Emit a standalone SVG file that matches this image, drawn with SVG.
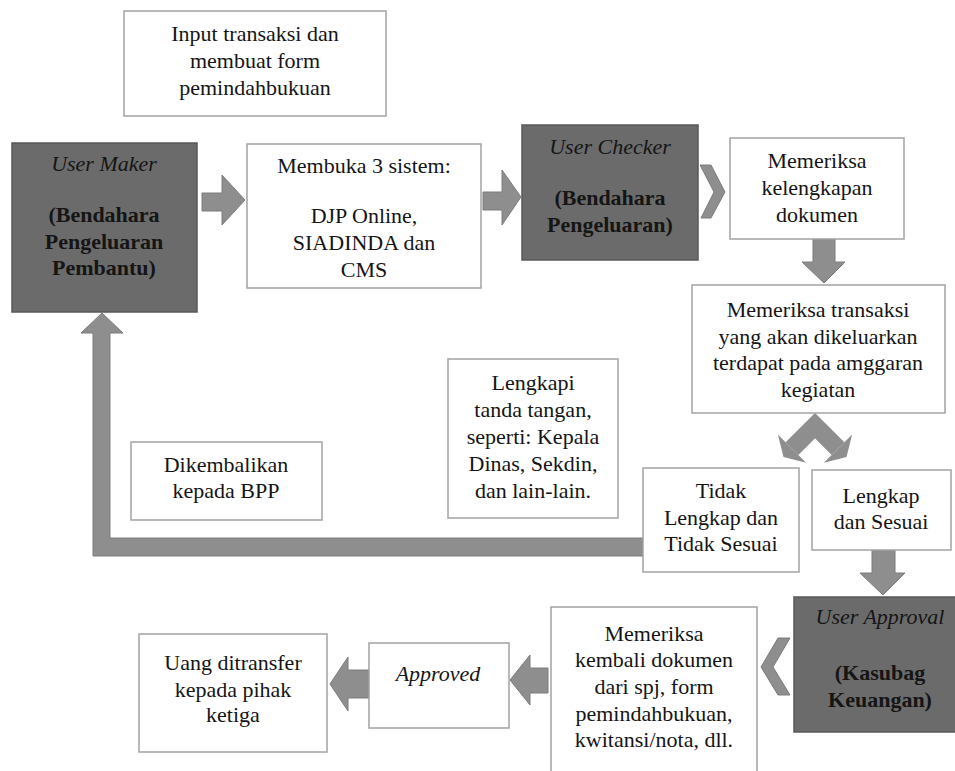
<svg xmlns="http://www.w3.org/2000/svg" width="955" height="771" viewBox="0 0 955 771">
<defs>
<style>
.box{fill:#ffffff;stroke:#a3a3a3;stroke-width:1.5}
.dark{fill:#6b6b6b;stroke:#585858;stroke-width:1.5}
.arr{fill:#8e8e8e;stroke:#7c7c7c;stroke-width:1}
text{font-family:'Liberation Serif','Times New Roman',serif;font-size:22px;fill:#151515;text-anchor:middle}
.it{font-style:italic}
.b{font-weight:bold}
</style>
</defs>
<rect width="955" height="771" fill="#ffffff"/>

<g id="connectors">
<path class="arr" d="M202,193 H222 V175 L245,200 L222,225 V211 H202 Z"/>
<path class="arr" d="M483,192 H502 V170 L521,197 L502,225 V210 H483 Z"/>
<polygon class="arr" points="700,165 711,165 725,192 711,218 701,218 714,192"/>
<path class="arr" d="M813,239 H835 V262 H845 L824,283 L802,262 H813 Z"/>
<g id="split">
<polyline points="792,448.7 815,425.7 838,448.7" fill="none" stroke="#8e8e8e" stroke-width="18" stroke-linejoin="miter"/>
<polygon points="777.9,434.6 806.1,462.8 783.5,457" fill="#8e8e8e"/>
<polygon points="852.1,434.6 823.9,462.8 846.5,457" fill="#8e8e8e"/>
</g>
<path class="arr" d="M643,538 H110 V333 H123 L102,313 L81,333 H93 V556 H643 Z"/>
<path class="arr" d="M872,550 H895 V573 H905 L883,595 L860,573 H872 Z"/>
<polygon class="arr" points="790,638 778,638 761,667 778,695 790,695 773,667"/>
<path class="arr" d="M548,668 H530 V655 L510,680 L530,705 V693 H548 Z"/>
<path class="arr" d="M369,670 H348 V657 L330,684 L348,711 V698 H369 Z"/>
</g>

<g id="input">
<rect class="box" x="124" y="11" width="262" height="105"/>
<text x="255" y="41">Input transaksi dan</text>
<text x="255" y="68">membuat form</text>
<text x="255" y="95">pemindahbukuan</text>
</g>

<g id="usermaker">
<rect class="dark" x="12" y="143" width="185" height="169"/>
<text class="it" x="104" y="171">User Maker</text>
<text class="b" x="104" y="222">(Bendahara</text>
<text class="b" x="104" y="248.5">Pengeluaran</text>
<text class="b" x="104" y="275">Pembantu)</text>
</g>

<g id="membuka">
<rect class="box" x="247" y="144" width="234" height="144"/>
<text x="364" y="173">Membuka 3 sistem:</text>
<text x="364" y="223">DJP Online,</text>
<text x="364" y="250">SIADINDA dan</text>
<text x="364" y="277">CMS</text>
</g>

<g id="userchecker">
<rect class="dark" x="522" y="125" width="176" height="135"/>
<text class="it" x="610" y="154">User Checker</text>
<text class="b" x="610" y="205">(Bendahara</text>
<text class="b" x="610" y="232">Pengeluaran)</text>
</g>

<g id="kelengkapan">
<rect class="box" x="730" y="138" width="174" height="101"/>
<text x="817" y="168">Memeriksa</text>
<text x="817" y="195">kelengkapan</text>
<text x="817" y="222">dokumen</text>
</g>

<g id="transaksi">
<rect class="box" x="692" y="285" width="253" height="128"/>
<text x="818" y="317">Memeriksa transaksi</text>
<text x="818" y="344">yang akan dikeluarkan</text>
<text x="818" y="370">terdapat pada amggaran</text>
<text x="818" y="397">kegiatan</text>
</g>

<g id="tidak">
<rect class="box" x="643" y="468" width="156" height="104"/>
<text x="721" y="498">Tidak</text>
<text x="721" y="525">Lengkap dan</text>
<text x="721" y="551">Tidak Sesuai</text>
</g>

<g id="lengkap">
<rect class="box" x="812" y="470" width="139" height="80"/>
<text x="881" y="503">Lengkap</text>
<text x="881" y="529">dan Sesuai</text>
</g>

<g id="lengkapi">
<rect class="box" x="448" y="359" width="170" height="159"/>
<text x="533" y="390">Lengkapi</text>
<text x="533" y="417">tanda tangan,</text>
<text x="533" y="444">seperti: Kepala</text>
<text x="533" y="471">Dinas, Sekdin,</text>
<text x="533" y="498">dan lain-lain.</text>
</g>

<g id="dikembalikan">
<rect class="box" x="131" y="442" width="191" height="78"/>
<text x="226" y="472">Dikembalikan</text>
<text x="226" y="498">kepada BPP</text>
</g>

<g id="userapproval">
<rect class="dark" x="794" y="597" width="172" height="135"/>
<text class="it" x="880" y="624">User Approval</text>
<text class="b" x="880" y="680">(Kasubag</text>
<text class="b" x="880" y="707">Keuangan)</text>
</g>

<g id="kembali">
<rect class="box" x="551" y="607" width="206" height="175"/>
<text x="654" y="641">Memeriksa</text>
<text x="654" y="667">kembali dokumen</text>
<text x="654" y="694">dari spj, form</text>
<text x="654" y="721">pemindahbukuan,</text>
<text x="654" y="747">kwitansi/nota, dll.</text>
</g>

<g id="approved">
<rect class="box" x="369" y="643" width="140" height="85"/>
<text class="it" x="438" y="681">Approved</text>
</g>

<g id="uang">
<rect class="box" x="139" y="634" width="188" height="118"/>
<text x="233" y="670">Uang ditransfer</text>
<text x="233" y="697">kepada pihak</text>
<text x="233" y="722">ketiga</text>
</g>
</svg>
